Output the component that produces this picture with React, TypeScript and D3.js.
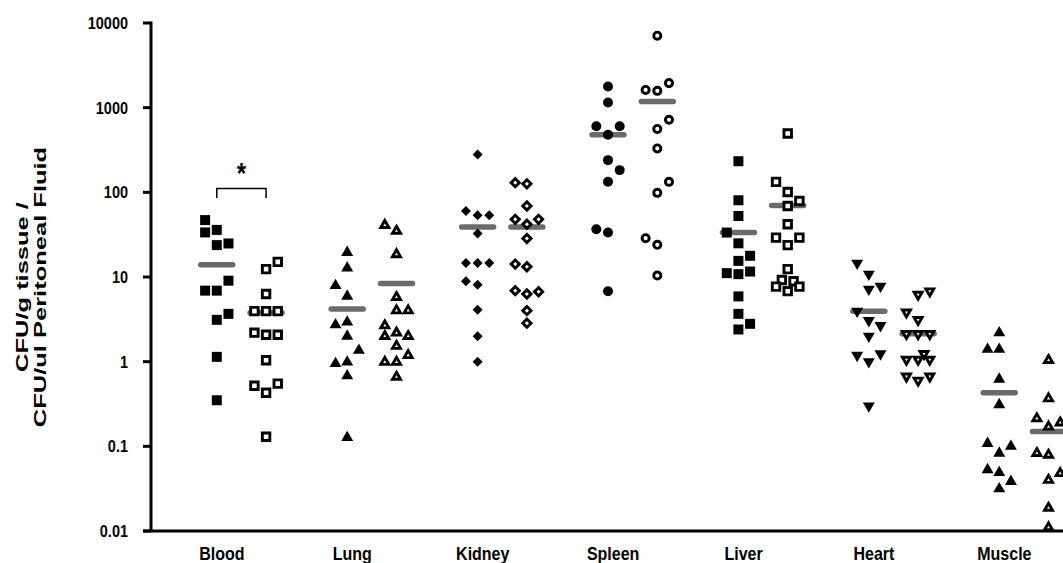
import * as d3 from "d3";

const categories = ["Blood", "Lung", "Kidney", "Spleen", "Liver", "Heart", "Muscle"];
const shapes = ["square", "triUp", "diamond", "circle", "square", "triDown", "triUp"];
const yTicks = [0.01, 0.1, 1, 10, 100, 1000, 10000];
const tickLabels = ["0.01", "0.1", "1", "10", "100", "1000", "10000"];

// filled markers, one list per tissue
const filledValues = [
  [47, 36, 33.6, 24.9, 23.8, 9.05, 6.9, 6.9, 3.67, 3.12, 1.14, 0.35],
  [19.5, 12.8, 7.9, 5.93, 2.93, 2.72, 2.0, 1.36, 0.99, 0.95, 0.68, 0.127],
  [280, 60, 53.6, 53.6, 32.6, 14.6, 14.6, 14.6, 8.9, 8.1, 4.1, 2.0, 1.0],
  [1780, 1150, 603, 603, 480, 240, 183, 133, 36.6, 33.6, 6.8],
  [233, 80.6, 52.5, 33.5, 25, 17.8, 15.5, 11.6, 11.1, 10.8, 5.9, 3.67, 2.8, 2.4],
  [14.6, 10.8, 7.2, 7.8, 3.95, 3.06, 2.67, 2.0, 1.19, 1.0, 1.24, 0.3],
  [2.19, 1.4, 1.4, 0.62, 0.31, 0.108, 0.083, 0.1, 0.053, 0.049, 0.0385, 0.0315],
];
// side-by-side slot of each filled marker (-1 left, 0 centre, 1 right)
const filledSlots = [
  [-1, 0, -1, 1, 0, 1, -1, 0, 1, 0, 0, 0],
  [0, 0, -1, 0, 0, -1, 0, 1, 0, -1, 0, 0],
  [0, -1, 0, 1, 0, -1, 0, 1, -1, 0, 0, 0, 0],
  [0, 0, -1, 1, 0, 0, 1, 0, -1, 0, 0],
  [0, 0, 0, -1, 0, 1, 0, 1, -1, 0, 0, 0, 1, 0],
  [-1, 0, 0, 1, -1, 0, 1, 0, -1, 0, 1, 0],
  [0, -1, 0, 0, 0, -1, 0, 1, -1, 0, 1, 0],
];

// open markers, one list per tissue
const openValues = [
  [15.1, 12.4, 6.3, 3.95, 3.95, 3.95, 2.2, 2.08, 2.08, 1.04, 0.55, 0.52, 0.43, 0.13],
  [41, 35, 18.5, 5.77, 4.02, 4.02, 2.67, 2.19, 2.0, 2.0, 1.53, 1.19, 0.99, 0.99, 0.66],
  [130, 126, 69, 48, 42, 48, 28.5, 14.2, 13.2, 6.9, 6.3, 6.7, 4.0, 2.85],
  [7080, 1620, 1580, 1950, 720, 560, 330, 133, 98.6, 28.7, 24, 10.4],
  [495, 133, 101, 79, 69, 42, 29.2, 29.2, 23.8, 12.4, 9.2, 8.9, 7.7, 7.7, 6.8],
  [6.2, 6.8, 3.83, 3.12, 2.13, 2.13, 2.13, 1.24, 1.06, 1.06, 1.06, 0.67, 0.6, 0.67],
  [1.04, 0.367, 0.213, 0.17, 0.19, 0.083, 0.079, 0.04, 0.048, 0.0187, 0.011],
];
const openSlots = [
  [1, 0, 0, -1, 0, 1, -1, 0, 1, 0, 1, -1, 0, 0],
  [-1, 0, 0, 0, 0, 1, -1, 0, -1, 1, 0, 1, -1, 0, 0],
  [-1, 0, 0, -1, 0, 1, 0, -1, 0, -1, 0, 1, 0, 0],
  [0, -1, 0, 1, 1, 0, 0, 1, 0, -1, 0, 0],
  [0, -1, 0, 1, 0, 0, -1, 1, 0, 0, -0.5, 0.5, -1, 1, 0],
  [0, 1, -1, 0, -1, 0, 1, 0.5, -1, 0, 1, -1, 0, 1],
  [0, 0, -1, 0, 1, -1, 0, 0, 1, 0, 0],
];

const filledMeans = [14, 4.2, 39, 480, 33.5, 3.95, 0.43];
const openMeans = [3.77, 8.4, 39, 1180, 70, 2.13, 0.15];

const W = 1063;
const H = 563;
const FONT = "Arial, 'Liberation Sans', Helvetica, sans-serif";
const PAIR = 0.189; // half distance between the two columns, in group units
const SLOT = 0.0895; // marker step, in group units
const STRETCH = 1.2; // the source picture is a little taller than wide

function markerPath(shape: string, open: boolean) {
  if (shape === "circle") return d3.symbol().type(d3.symbolCircle).size(open ? 40 : 78)();
  if (shape === "square") return d3.symbol().type(d3.symbolSquare).size(open ? 56 : 100)();
  if (shape === "diamond") return d3.symbol().type(d3.symbolSquare).size(open ? 34 : 50)();
  return d3.symbol().type(d3.symbolTriangle).size(open ? 28 : 62)();
}

export default function App() {
  const x = d3.scaleLinear().domain([-0.6935, 6.3]).range([151, W]);
  const y = d3.scaleLog().domain([0.01, 10000]).range([531, 23]);
  const axisX = 151;

  const series = [
    { values: filledValues, slots: filledSlots, means: filledMeans, side: -1, open: false },
    { values: openValues, slots: openSlots, means: openMeans, side: 1, open: true },
  ];

  const bx0 = x(0 - PAIR);
  const bx1 = x(0 + PAIR);

  return (
    <svg width={W} height={H} style={{ position: "absolute", left: 0, top: 0, background: "#fff" }}>
      <rect width={W} height={H} fill="#fff" />
      {/* y axis */}
      <line x1={axisX} x2={axisX} y1={y(10000) - 1.5} y2={y(0.01)} stroke="#000" strokeWidth={3} />
      {yTicks.map((t, i) => (
        <g key={t}>
          <line x1={axisX - 8} x2={axisX} y1={y(t)} y2={y(t)} stroke="#000" strokeWidth={3} />
          <text
            transform={`translate(128, ${y(t) + 6}) scale(1, ${STRETCH})`}
            textAnchor="end"
            fontFamily={FONT}
            fontWeight="bold"
            fontSize={14.5}
          >
            {tickLabels[i]}
          </text>
        </g>
      ))}
      {/* x axis */}
      <line x1={axisX - 8} x2={W} y1={y(0.01)} y2={y(0.01)} stroke="#000" strokeWidth={3} />
      {categories.map((c, i) => (
        <text
          key={c}
          transform={`translate(${x(i) - 19.5}, 560) scale(1, ${STRETCH})`}
          textAnchor="middle"
          fontFamily={FONT}
          fontWeight="bold"
          fontSize={16}
        >
          {c}
        </text>
      ))}
      {/* y title */}
      <g transform={`translate(28, 287) rotate(-90) scale(1.5, 1)`}>
        <text textAnchor="middle" fontFamily={FONT} fontWeight="bold" fontSize={17}>
          <tspan x={0} y={0}>CFU/g tissue /</tspan>
          <tspan x={0} y={18.5}>CFU/ul Peritoneal Fluid</tspan>
        </text>
      </g>
      {/* mean lines */}
      {series.map((s) =>
        s.means.map((m, i) => {
          const cx = x(i + s.side * PAIR);
          return (
            <line
              key={`${s.side}-m-${i}`}
              x1={cx - 16}
              x2={cx + 16}
              y1={y(m)}
              y2={y(m)}
              stroke="#6b6b6b"
              strokeWidth={5.5}
              strokeLinecap="round"
            />
          );
        })
      )}
      {/* markers */}
      {series.map((s) =>
        s.values.map((vals, i) => {
          const shape = shapes[i];
          const d = markerPath(shape, s.open) || "";
          const rot = shape === "diamond" ? 45 : shape === "triDown" ? 180 : 0;
          return vals.map((v, j) => {
            const cx = x(i + s.side * PAIR + s.slots[i][j] * SLOT);
            const cy = y(v);
            return (
              <path
                key={`${s.side}-${i}-${j}`}
                d={d}
                transform={`translate(${cx},${cy}) rotate(${rot})`}
                fill={s.open ? "#fff" : "#000"}
                stroke={s.open ? "#000" : "none"}
                strokeWidth={s.open ? 2.9 : 0}
              />
            );
          });
        })
      )}
      {/* significance bracket */}
      <path
        d={`M${bx0},198 V188.5 H${bx1} V198`}
        fill="none"
        stroke="#000"
        strokeWidth={1.5}
      />
      <text
        transform={`translate(${(bx0 + bx1) / 2}, 183) scale(1, ${STRETCH})`}
        textAnchor="middle"
        fontFamily={FONT}
        fontWeight="bold"
        fontSize={24}
      >
        *
      </text>
    </svg>
  );
}
